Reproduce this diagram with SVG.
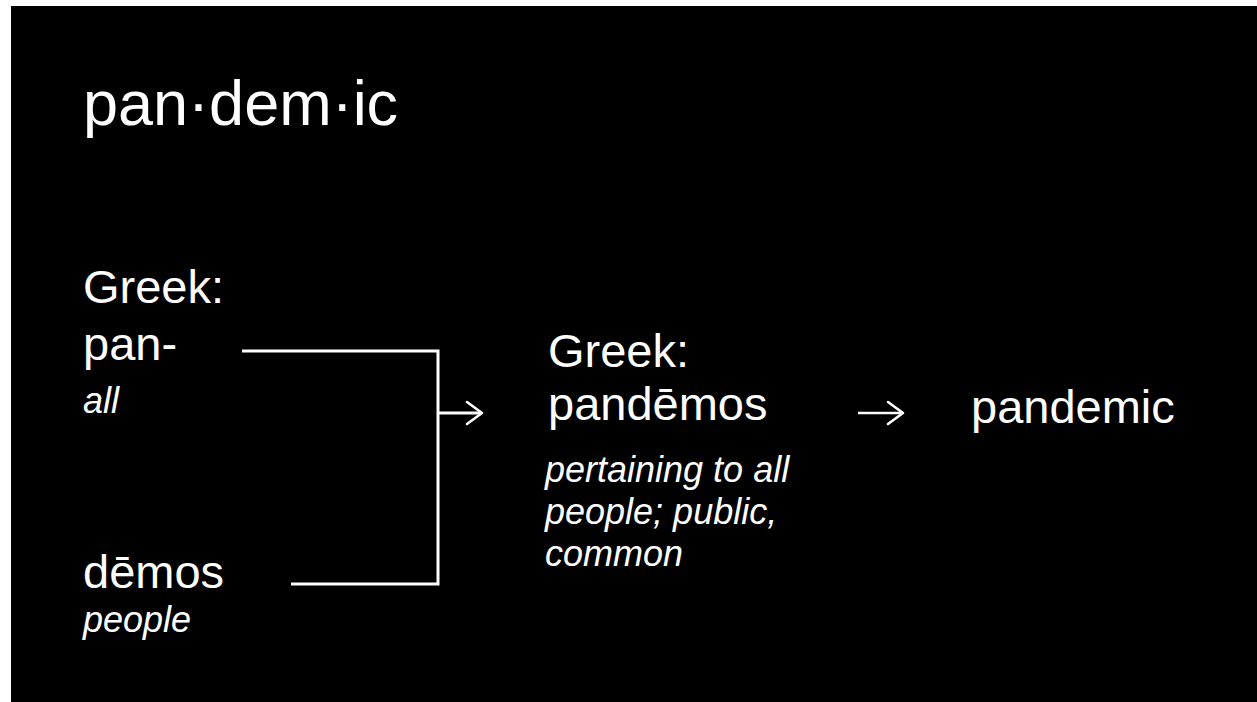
<svg xmlns="http://www.w3.org/2000/svg" width="1257" height="702" viewBox="0 0 1257 702">
  <style>
    text { fill: #ffffff; font-family: "Liberation Sans", Arial, sans-serif; }
    .big { font-size: 47px; }
    .it { font-size: 36px; font-style: italic; }
    .title { font-size: 63px; }
    .conn { fill: none; stroke: #ffffff; stroke-width: 3; stroke-linecap: butt; stroke-linejoin: miter; }
    .head { fill: none; stroke: #ffffff; stroke-width: 2.6; stroke-linecap: round; stroke-linejoin: round; }
  </style>
  <rect x="0" y="0" width="1257" height="702" fill="#ffffff"/>
  <rect x="11" y="6" width="1246" height="696" fill="#000000"/>

  <g id="title">
    <text class="title" x="83" y="125">pan·dem·ic</text>
  </g>

  <g id="node-pan">
    <text class="big" x="83" y="303">Greek:</text>
    <text class="big" x="83" y="360">pan-</text>
    <text class="it" x="83" y="413">all</text>
  </g>

  <g id="node-demos">
    <text class="big" x="83" y="588">dēmos</text>
    <text class="it" x="83" y="632">people</text>
  </g>

  <g id="node-pandemos">
    <text class="big" x="548" y="367">Greek:</text>
    <text class="big" x="548" y="420">pandēmos</text>
    <text class="it" x="545" y="482">pertaining to all</text>
    <text class="it" x="545" y="524">people; public,</text>
    <text class="it" x="545" y="566">common</text>
  </g>

  <g id="node-pandemic">
    <text class="big" x="971" y="423">pandemic</text>
  </g>

  <g id="connectors">
    <polyline class="conn" points="242,351 438,351 438,584 291,584"/>
    <line class="conn" x1="438" y1="413" x2="481" y2="413"/>
    <polyline class="head" points="467,402 482,413 467,424"/>
    <line class="conn" x1="858" y1="413" x2="902" y2="413" style="stroke-width:2.6"/>
    <polyline class="head" points="888,402 903,413 888,424"/>
  </g>
</svg>
